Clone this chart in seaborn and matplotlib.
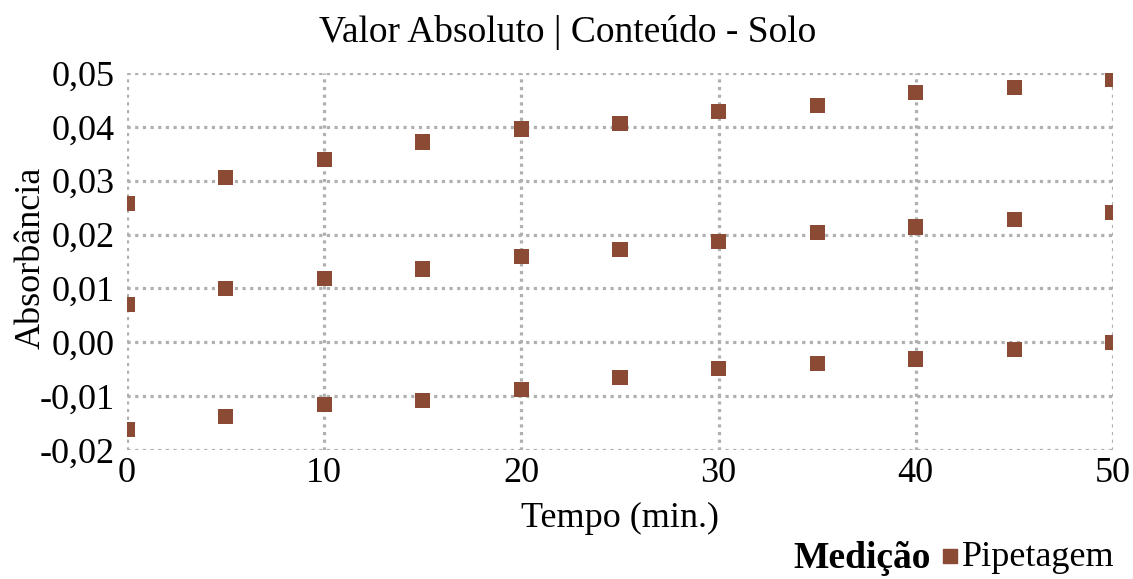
import numpy as np
import pandas as pd
import seaborn as sns
from matplotlib import pyplot as plt
from matplotlib.ticker import FuncFormatter

# tempos de leitura (min.)
tempo = [0, 5, 10, 15, 20, 25, 30, 35, 40, 45, 50]

# tres series de leitura, todas "Pipetagem"
serie_alta = [0.0258, 0.0306, 0.0340, 0.0372, 0.0396, 0.0406, 0.0429, 0.0439, 0.0464, 0.0473, 0.0488]
serie_media = [0.0070, 0.0100, 0.0118, 0.0136, 0.0159, 0.0173, 0.0187, 0.0204, 0.0214, 0.0228, 0.0241]
serie_baixa = [-0.0162, -0.0138, -0.0116, -0.0108, -0.0087, -0.0065, -0.0048, -0.0039, -0.0031, -0.0013, -0.0001]

x_ticks = [0, 10, 20, 30, 40, 50]
y_ticks = [-0.02, -0.01, 0.00, 0.01, 0.02, 0.03, 0.04, 0.05]

df = pd.DataFrame({
    'Tempo': tempo * 3,
    'Absorbancia': serie_alta + serie_media + serie_baixa,
    'Medição': ['Pipetagem'] * (len(tempo) * 3),
})

sns.set_theme(style='white')
plt.rcParams['font.family'] = ['Liberation Serif', 'DejaVu Serif']
plt.rcParams['text.color'] = 'black'

cor = '#8a4a33'

fig = plt.figure(figsize=(11.33, 5.79), dpi=100)
ax = fig.add_axes([127 / 1133, 1 - 450 / 579, (1113 - 127) / 1133, (450 - 73) / 579])

sns.scatterplot(data=df, x='Tempo', y='Absorbancia', hue='Medição', palette=[cor],
                marker='s', s=120, linewidth=0, ax=ax, legend=False, zorder=3)

ax.set_xlim(0, 50)
ax.set_ylim(-0.02, 0.05)
ax.set_xticks(x_ticks)
ax.set_yticks(y_ticks)
ax.yaxis.set_major_formatter(FuncFormatter(lambda v, p: f'{v:.2f}'.replace('.', ',').replace('-0,00', '0,00')))
ax.tick_params(axis='both', length=0, labelsize=26, colors='black')
ax.tick_params(axis='y', pad=9)
ax.tick_params(axis='x', pad=5)
ax.grid(True, color='#b0b0b0', linestyle=(0, (1, 1.4)), linewidth=2.3)
for sp in ax.spines.values():
    sp.set_visible(False)

ax.set_xlabel('Tempo (min.)', fontsize=26, color='black')
ax.set_ylabel('Absorbância', fontsize=26, color='black')
ax.xaxis.set_label_coords(0.5, (450 - 518) / 377)
ax.yaxis.set_label_coords((31 - 127) / 986, 0.51)
ax.xaxis.label.set_va('center')
ax.yaxis.label.set_va('center')
fig.text(568 / 1133, 1 - 33 / 579, 'Valor Absoluto | Conteúdo - Solo',
         fontsize=27, ha='center', va='center')

# legenda
fig.text(931 / 1133, 1 - 558 / 579, 'Medição', fontsize=27, fontweight='bold', ha='right', va='center')
ax.scatter([], [], marker='s', s=100, color=cor, label='Pipetagem')
fig.legend(handles=[ax.collections[-1]], labels=['Pipetagem'], loc='center right',
           bbox_to_anchor=(1115 / 1133, 1 - 557 / 579), frameon=False, fontsize=26,
           handletextpad=-0.15, borderpad=0, borderaxespad=0, handlelength=1.0)

fig.savefig('out.png', dpi=100)
